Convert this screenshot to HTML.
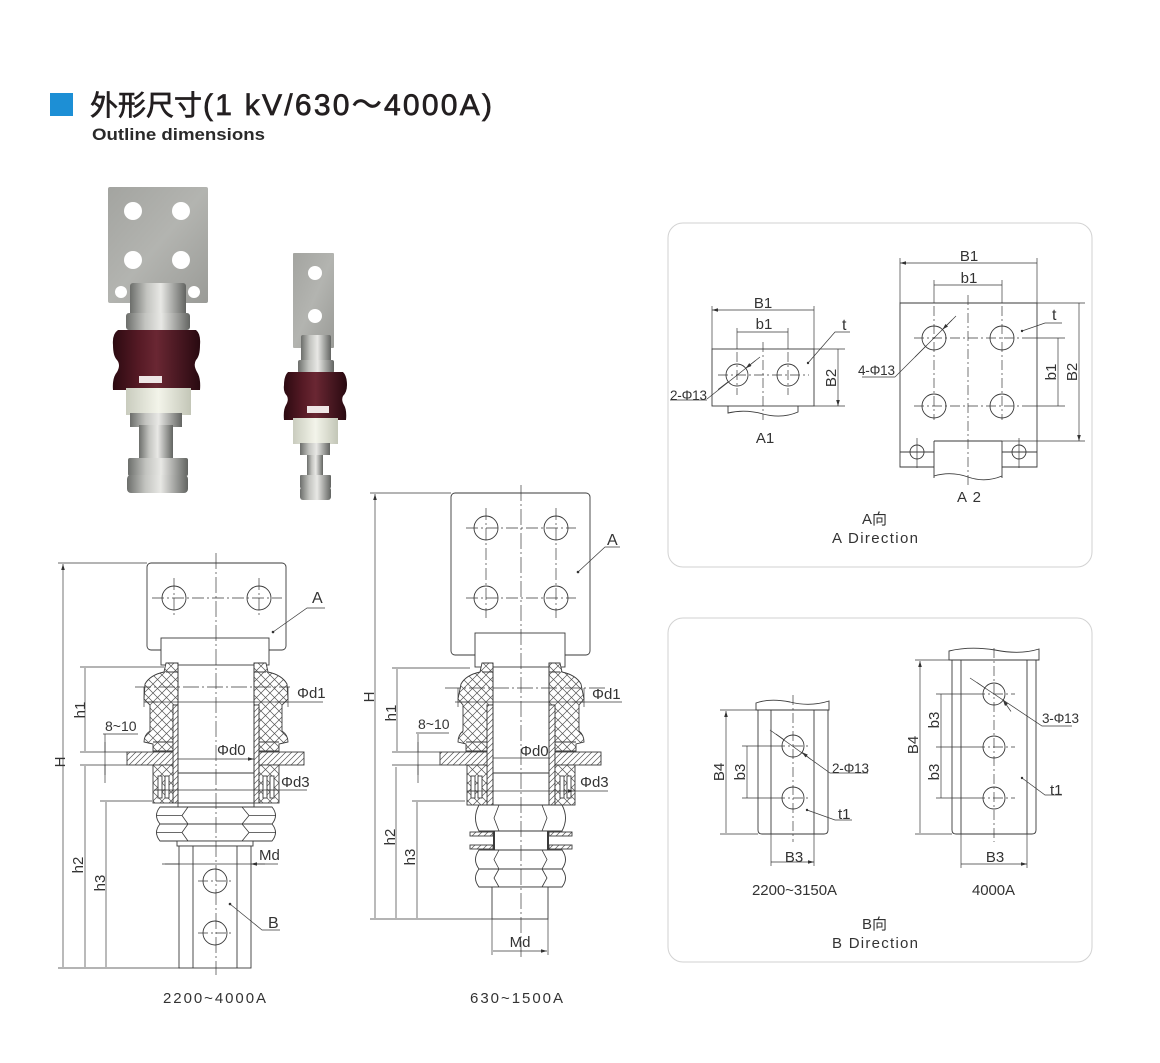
<!DOCTYPE html>
<html><head><meta charset="utf-8">
<style>
html,body{margin:0;padding:0;background:#fff}
svg{display:block}
text{font-family:"Liberation Sans","Noto Sans CJK SC",sans-serif}
</style></head><body>
<svg width="1160" height="1063" viewBox="0 0 1160 1063" xmlns="http://www.w3.org/2000/svg">
<defs>
 <marker id="ar" viewBox="0 0 10 6" refX="10" refY="3" markerWidth="8" markerHeight="3.6" orient="auto-start-reverse" markerUnits="userSpaceOnUse"><path d="M0,0L10,3L0,6z" fill="#333"/></marker>
 <pattern id="xh" patternUnits="userSpaceOnUse" width="9" height="9"><rect width="9" height="9" fill="#fff"/><path d="M0,0L9,9M9,0L0,9" stroke="#555" stroke-width="0.7"/></pattern>
 <pattern id="sh" patternUnits="userSpaceOnUse" width="6" height="6"><rect width="6" height="6" fill="#fff"/><path d="M-1,7L7,-1M-1,1L1,-1M5,7L7,5" stroke="#555" stroke-width="0.7"/></pattern>
 <linearGradient id="metal" x1="0" x2="1" y1="0" y2="0"><stop offset="0" stop-color="#6c6e6b"/><stop offset="0.3" stop-color="#c3c4c0"/><stop offset="0.55" stop-color="#e8e8e5"/><stop offset="1" stop-color="#626461"/></linearGradient>
 <linearGradient id="plateG" x1="0" x2="1" y1="0" y2="1"><stop offset="0" stop-color="#a3a4a0"/><stop offset="0.5" stop-color="#b3b4b0"/><stop offset="1" stop-color="#9a9b97"/></linearGradient>
 <linearGradient id="maroon" x1="0" x2="1" y1="0" y2="0"><stop offset="0" stop-color="#2c0a11"/><stop offset="0.3" stop-color="#561a25"/><stop offset="0.5" stop-color="#6a2733"/><stop offset="1" stop-color="#280910"/></linearGradient>
 <linearGradient id="whiteG" x1="0" x2="1" y1="0" y2="0"><stop offset="0" stop-color="#c9ccbe"/><stop offset="0.5" stop-color="#f3f4ea"/><stop offset="1" stop-color="#c3c6b7"/></linearGradient>
</defs>

<!-- Header -->
<rect x="50" y="93" width="23" height="23" fill="#1d8fd5"/>
<text x="90" y="115" font-size="28" fill="#231f20" stroke="#231f20" stroke-width="0.7">外形尺寸</text>
<text x="203" y="115" font-size="30" fill="#231f20" stroke="#231f20" stroke-width="0.7" textLength="289" lengthAdjust="spacing">(1 kV/630～4000A)</text>
<text x="92" y="140" font-size="17" font-weight="bold" fill="#2a2a2a" textLength="173" lengthAdjust="spacingAndGlyphs">Outline dimensions</text>

<!-- Photos -->
<g>
 <rect x="108" y="187" width="100" height="116" rx="2" fill="url(#plateG)"/>
 <circle cx="133" cy="211" r="9" fill="#fff"/><circle cx="181" cy="211" r="9" fill="#fff"/>
 <circle cx="133" cy="260" r="9" fill="#fff"/><circle cx="181" cy="260" r="9" fill="#fff"/>
 <circle cx="121" cy="292" r="6" fill="#fff"/><circle cx="194" cy="292" r="6" fill="#fff"/>
 <rect x="130" y="283" width="56" height="35" rx="3" fill="url(#metal)"/>
 <rect x="126" y="313" width="64" height="17" rx="3" fill="url(#metal)"/>
 <path d="M118,330H196Q201,334 200,345Q200,356 196,360Q193,365 197,372Q201,378 200,390H113Q112,378 117,372Q121,365 117,360Q113,356 113,345Q112,334 118,330Z" fill="url(#maroon)"/>
 <rect x="139" y="376" width="23" height="7" fill="#efe6e6"/>
 <rect x="126" y="388" width="65" height="27" fill="url(#whiteG)"/>
 <rect x="130" y="413" width="52" height="14" fill="url(#metal)"/>
 <rect x="139" y="425" width="34" height="35" fill="url(#metal)"/>
 <rect x="128" y="458" width="60" height="18" rx="2" fill="url(#metal)"/>
 <rect x="127" y="475" width="61" height="18" rx="4" fill="url(#metal)"/>

 <rect x="293" y="253" width="41" height="95" rx="1" fill="url(#plateG)"/>
 <circle cx="315" cy="273" r="7" fill="#fff"/><circle cx="315" cy="316" r="7" fill="#fff"/>
 <rect x="301" y="335" width="30" height="30" rx="2" fill="url(#metal)"/>
 <rect x="298" y="360" width="36" height="13" rx="2" fill="url(#metal)"/>
 <path d="M288,372H343Q347,376 347,385Q347,392 343,396Q341,400 344,405Q347,410 346,420H284Q283,410 286,405Q289,400 287,396Q283,392 284,385Q284,376 288,372Z" fill="url(#maroon)"/>
 <rect x="307" y="406" width="22" height="7" fill="#efe6e6"/>
 <rect x="293" y="418" width="45" height="26" fill="url(#whiteG)"/>
 <rect x="300" y="443" width="30" height="12" fill="url(#metal)"/>
 <rect x="307" y="455" width="16" height="22" fill="url(#metal)"/>
 <rect x="300" y="475" width="31" height="13" rx="1" fill="url(#metal)"/>
 <rect x="300" y="487" width="31" height="13" rx="3" fill="url(#metal)"/>
</g>

<!-- LEFT DRAWING 2200~4000A -->
<g fill="none" stroke="#3a3a3a" stroke-width="0.9">
 <rect x="147" y="563" width="139" height="87" rx="4" fill="#fff"/>
 <circle cx="174" cy="598" r="12"/><circle cx="259" cy="598" r="12"/>
 <path d="M152,598H282M174,578V618M259,578V618" stroke-dasharray="12,3,2,3" stroke-width="0.7"/>
 <rect x="161" y="638" width="108" height="27" fill="#fff"/>
 <path d="M178,663L166,663L164,672Q150,675 145,684L144,699L150,705L150,731Q144,735 144,742L153,744L153,751L173,751L173,705L178,705Z" fill="url(#xh)"/>
 <path d="M254,663L266,663L268,672Q282,675 287,684L288,699L282,705L282,731Q288,735 288,742L279,744L279,751L259,751L259,705L254,705Z" fill="url(#xh)"/>
 <path d="M153,742H173M279,742H259M166,672H178M266,672H254"/>
 <rect x="173" y="705" width="5" height="98" fill="url(#sh)"/>
 <rect x="254" y="705" width="5" height="98" fill="url(#sh)"/>
 <rect x="127" y="752" width="46" height="13" fill="url(#sh)"/>
 <rect x="259" y="752" width="45" height="13" fill="url(#sh)"/>
 <rect x="153" y="765" width="20" height="38" fill="url(#xh)"/>
 <rect x="259" y="765" width="20" height="38" fill="url(#xh)"/>
 <rect x="158" y="776" width="4" height="22" fill="#fff"/><rect x="165" y="776" width="4" height="22" fill="#fff"/>
 <rect x="263" y="776" width="4" height="22" fill="#fff"/><rect x="270" y="776" width="4" height="22" fill="#fff"/>
 <path d="M178,663V807M254,663V807M178,773H254M178,803H254"/>
 <path d="M160,807H272Q279,815.5 272,824H160Q153,815.5 160,807Z" fill="#fff"/>
 <path d="M160,824H272Q279,832.5 272,841H160Q153,832.5 160,824Z" fill="#fff"/>
 <path d="M188,807L182,815.5L188,824M242,807L249,815.5L242,824M188,824L182,832.5L188,841M242,824L249,832.5L242,841M182,815.5H157M249,815.5H276M182,832.5H157M249,832.5H276" stroke-width="0.8"/>
 <rect x="177" y="841" width="76" height="5" fill="#fff"/>
 <rect x="179" y="846" width="72" height="122" fill="#fff"/>
 <path d="M193,846V968M237,846V968"/>
 <circle cx="215" cy="881" r="12"/><circle cx="215" cy="933" r="12"/>
 <path d="M198,881H232M198,933H232" stroke-dasharray="10,3,2,3" stroke-width="0.7"/>
 <path d="M216,553V975M135,687H290" stroke-dasharray="16,3,2,3" stroke-width="0.7"/>
 <!-- dims -->
 <path d="M58,563H147M58,968H180M80,667H164M80,752H127M80,765H127M100,801H152" stroke-width="0.7"/>
 <path d="M63,564V967M85,668V751M85,766V967M106,802V967M178,759H254" marker-start="url(#ar)" marker-end="url(#ar)" stroke-width="0.7"/>
 <path d="M105,734V783M103,734H138M144,702H323M144,687V707M288,687V707M154,790H307M162,864H278" stroke-width="0.7"/>
 <path d="M105,742V752M105,775V765M158,702H145M275,702H288M166,790H155M266,790H277M165,864H179M265,864H251" marker-end="url(#ar)" stroke-width="0.7"/>
 <path d="M273,632L307,608H325M230,904L262,930H280" stroke-width="0.7"/>
</g>
<circle cx="273" cy="632" r="1.3" fill="#333"/><circle cx="230" cy="904" r="1.3" fill="#333"/>
<g fill="#333" font-size="15">
 <text x="312" y="603" font-size="16">A</text>
 <text x="268" y="928" font-size="16">B</text>
 <text x="297" y="698">Φd1</text>
 <text x="217" y="755">Φd0</text>
 <text x="281" y="787">Φd3</text>
 <text x="259" y="860">Md</text>
 <text x="105" y="731" font-size="14">8~10</text>
 <text transform="translate(65,762) rotate(-90)" text-anchor="middle">H</text>
 <text transform="translate(85,710) rotate(-90)" text-anchor="middle">h1</text>
 <text transform="translate(83,865) rotate(-90)" text-anchor="middle">h2</text>
 <text transform="translate(105,883) rotate(-90)" text-anchor="middle">h3</text>
 <text x="163" y="1003" textLength="103" lengthAdjust="spacing">2200~4000A</text>
</g>

<!-- MIDDLE DRAWING 630~1500A -->
<g fill="none" stroke="#3a3a3a" stroke-width="0.9">
 <rect x="451" y="493" width="139" height="162" rx="4" fill="#fff"/>
 <circle cx="486" cy="528" r="12"/><circle cx="556" cy="528" r="12"/>
 <circle cx="486" cy="598" r="12"/><circle cx="556" cy="598" r="12"/>
 <path d="M466,528H576M466,598H576M486,508V618M556,508V618" stroke-dasharray="12,3,2,3" stroke-width="0.7"/>
 <rect x="475" y="633" width="90" height="34" fill="#fff"/>
 <path d="M493,663L482,663L480,672Q466,675 461,684L458,699L463,705L463,731Q458,735 458,742L466,744L466,751L487,751L487,705L493,705Z" fill="url(#xh)"/>
 <path d="M549,663L560,663L562,672Q576,675 581,684L584,699L579,705L579,731Q584,735 584,742L576,744L576,751L555,751L555,705L549,705Z" fill="url(#xh)"/>
 <path d="M466,742H487M576,742H555M482,672H493M560,672H549"/>
 <rect x="487" y="705" width="6" height="100" fill="url(#sh)"/>
 <rect x="549" y="705" width="6" height="100" fill="url(#sh)"/>
 <rect x="440" y="752" width="47" height="13" fill="url(#sh)"/>
 <rect x="555" y="752" width="46" height="13" fill="url(#sh)"/>
 <rect x="467" y="765" width="20" height="40" fill="url(#xh)"/>
 <rect x="555" y="765" width="20" height="40" fill="url(#xh)"/>
 <rect x="471" y="776" width="4" height="22" fill="#fff"/><rect x="478" y="776" width="4" height="22" fill="#fff"/>
 <rect x="560" y="776" width="4" height="22" fill="#fff"/><rect x="567" y="776" width="4" height="22" fill="#fff"/>
 <path d="M493,663V805M549,663V805M493,773H549"/>
 <path d="M479,805H562Q569,818 562,831H479Q472,818 479,805Z" fill="#fff"/>
 <path d="M499,805L494,818L499,831M542,805L547,818L542,831" stroke-width="0.8"/>
 <rect x="470" y="832" width="23" height="4" fill="url(#sh)"/><rect x="549" y="832" width="23" height="4" fill="url(#sh)"/>
 <rect x="470" y="845" width="23" height="4" fill="url(#sh)"/><rect x="549" y="845" width="23" height="4" fill="url(#sh)"/>
 <path d="M494,831V850M548,831V850" stroke-width="2"/>
 <path d="M479,850H562Q569,859.5 562,869H479Q472,859.5 479,850Z" fill="#fff"/>
 <path d="M479,869H562Q569,878 562,887H479Q472,878 479,869Z" fill="#fff"/>
 <path d="M499,850L494,859.5L499,869M542,850L547,859.5L542,869M499,869L494,878L499,887M542,869L547,878L542,887" stroke-width="0.8"/>
 <rect x="492" y="887" width="56" height="32" fill="#fff"/>
 <path d="M521,485V960M445,688H605" stroke-dasharray="16,3,2,3" stroke-width="0.7"/>
 <path d="M370,493H451M370,919H492M392,668H470M392,752H440M392,765H440M412,801H465M492,919V955M548,919V955" stroke-width="0.7"/>
 <path d="M375,494V918M397,669V751M396,767V918M417,802V918M493,758H549M493,951H547" marker-start="url(#ar)" marker-end="url(#ar)" stroke-width="0.7"/>
 <path d="M418,734V783M416,733H449M455,702H622M458,688V707M584,688V707M467,791H608" stroke-width="0.7"/>
 <path d="M418,742V752M418,775V765M470,702H458M572,702H584M479,791H468M563,791H574" marker-end="url(#ar)" stroke-width="0.7"/>
 <path d="M578,572L605,547H620" stroke-width="0.7"/>
</g>
<circle cx="578" cy="572" r="1.3" fill="#333"/>
<g fill="#333" font-size="15">
 <text x="607" y="545" font-size="16">A</text>
 <text x="592" y="699">Φd1</text>
 <text x="520" y="756">Φd0</text>
 <text x="580" y="787">Φd3</text>
 <text x="520" y="947" text-anchor="middle">Md</text>
 <text x="418" y="729" font-size="14">8~10</text>
 <text transform="translate(374,697) rotate(-90)" text-anchor="middle">H</text>
 <text transform="translate(396,713) rotate(-90)" text-anchor="middle">h1</text>
 <text transform="translate(395,837) rotate(-90)" text-anchor="middle">h2</text>
 <text transform="translate(415,857) rotate(-90)" text-anchor="middle">h3</text>
 <text x="470" y="1003" textLength="93" lengthAdjust="spacing">630~1500A</text>
</g>

<!-- RIGHT PANEL 1 : A direction -->
<rect x="668" y="223" width="424" height="344" rx="15" fill="#fff" stroke="#d2d2d2" stroke-width="1"/>
<g fill="none" stroke="#3a3a3a" stroke-width="0.9">
 <rect x="712" y="349" width="102" height="57" fill="#fff"/>
 <path d="M728,406V413Q745,409 763,414Q782,419 798,412V406"/>
 <circle cx="737" cy="375" r="11"/><circle cx="788" cy="375" r="11"/>
 <path d="M718,375H809M737,352V395M788,352V395M763,342V420" stroke-dasharray="10,3,2,3" stroke-width="0.7"/>
 <path d="M712,306V349M814,306V349M737,328V349M788,328V349M814,349H845M814,406H845" stroke-width="0.7"/>
 <path d="M712,310H814M737,332H788M838,349V406" marker-start="url(#ar)" marker-end="url(#ar)" stroke-width="0.7"/>
 <path d="M707,399L760,357M808,363L835,332H850M670,400H707" stroke-width="0.7"/>
 <path d="M718,389.5L728.3,381.7M755.5,360.5L745.7,368.3" marker-end="url(#ar)" stroke-width="0.7"/>
 <path d="M934,467H900V303H1037V467H1002" fill="#fff"/>
 <path d="M934,441H1002M934,441V478M1002,441V478M900,452H934M1002,452H1037"/>
 <path d="M934,476Q951,471 968,477Q985,483 1002,476"/>
 <circle cx="917" cy="452" r="7"/><circle cx="1019" cy="452" r="7"/>
 <path d="M917,438V468M1019,438V468" stroke-width="0.7"/>
 <circle cx="934" cy="338" r="12"/><circle cx="1002" cy="338" r="12"/>
 <circle cx="934" cy="406" r="12"/><circle cx="1002" cy="406" r="12"/>
 <path d="M914,338H1030M914,406H1030M934,306V420M1002,306V420M968,295V487" stroke-dasharray="10,3,2,3" stroke-width="0.7"/>
 <path d="M900,258V303M1037,258V303M934,280V303M1002,280V303M1030,338H1065M1030,406H1065M1037,303H1085M1002,441H1085" stroke-width="0.7"/>
 <path d="M900,263H1037M934,285H1002M1058,338V406M1079,303V441" marker-start="url(#ar)" marker-end="url(#ar)" stroke-width="0.7"/>
 <path d="M895,377L956,316M862,377H895M1022,331L1045,323H1062" stroke-width="0.7"/>
 <path d="M915,357L925.5,346.5M952,320L942.5,329.5" marker-end="url(#ar)" stroke-width="0.7"/>
</g>
<circle cx="808" cy="363" r="1.2" fill="#333"/><circle cx="1022" cy="331" r="1.2" fill="#333"/>
<g fill="#333" font-size="15">
 <text x="763" y="308" text-anchor="middle">B1</text>
 <text x="764" y="329" text-anchor="middle">b1</text>
 <text x="842" y="330" font-size="16">t</text>
 <text x="670" y="400" font-size="13.5" textLength="37" lengthAdjust="spacing">2-Φ13</text>
 <text transform="translate(836,378) rotate(-90)" text-anchor="middle">B2</text>
 <text x="765" y="443" text-anchor="middle">A1</text>
 <text x="969" y="261" text-anchor="middle">B1</text>
 <text x="969" y="283" text-anchor="middle">b1</text>
 <text x="1052" y="320" font-size="16">t</text>
 <text x="858" y="375" font-size="13.5" textLength="37" lengthAdjust="spacing">4-Φ13</text>
 <text transform="translate(1056,372) rotate(-90)" text-anchor="middle">b1</text>
 <text transform="translate(1077,372) rotate(-90)" text-anchor="middle">B2</text>
 <text x="957" y="502" textLength="24" lengthAdjust="spacing">A2</text>
 <text x="862" y="524">A向</text>
 <text x="832" y="543" textLength="86" lengthAdjust="spacing">A  Direction</text>
</g>

<!-- RIGHT PANEL 2 : B direction -->
<rect x="668" y="618" width="424" height="344" rx="15" fill="#fff" stroke="#d2d2d2" stroke-width="1"/>
<g fill="none" stroke="#3a3a3a" stroke-width="0.9">
 <path d="M758,710V830Q758,834 762,834H824Q828,834 828,830V710" fill="#fff"/>
 <path d="M756,710V703Q770,698 790,702Q810,707 829,701V710Z" fill="#fff"/>
 <path d="M771,710V834M814,710V834"/>
 <circle cx="793" cy="746" r="11"/><circle cx="793" cy="798" r="11"/>
 <path d="M793,695V842M775,746H808M775,798H808" stroke-dasharray="10,3,2,3" stroke-width="0.7"/>
 <path d="M720,710H758M720,834H758M742,746H775M742,798H775M771,834V866M814,834V866" stroke-width="0.7"/>
 <path d="M726,711V833M747,746V798M771,862H814" marker-start="url(#ar)" marker-end="url(#ar)" stroke-width="0.7"/>
 <path d="M770,730L830,773H868M807,810L835,820H852" stroke-width="0.7"/>
 <path d="M776,734L784,739.7M811,759.5L802,752.3" marker-end="url(#ar)" stroke-width="0.7"/>
 <path d="M952,660V830Q952,834 956,834H1032Q1036,834 1036,830V660" fill="#fff"/>
 <path d="M949,660V651Q970,646 995,650Q1020,655 1039,649V660Z" fill="#fff"/>
 <path d="M961,660V834M1027,660V834"/>
 <circle cx="994" cy="694" r="11"/><circle cx="994" cy="747" r="11"/><circle cx="994" cy="798" r="11"/>
 <path d="M994,648V842M975,694H1015M975,747H1015M975,798H1015" stroke-dasharray="10,3,2,3" stroke-width="0.7"/>
 <path d="M915,660H952M915,834H952M936,694H975M936,747H975M936,798H975M961,834V868M1027,834V868" stroke-width="0.7"/>
 <path d="M920,661V833M941,694V747M941,747V798M961,864H1027" marker-start="url(#ar)" marker-end="url(#ar)" stroke-width="0.7"/>
 <path d="M970,678L1042,726H1072M1022,778L1045,795H1062" stroke-width="0.7"/>
 <path d="M977,682.5L985,688M1011,711.5L1003,700" marker-end="url(#ar)" stroke-width="0.7"/>
</g>
<circle cx="807" cy="810" r="1.2" fill="#333"/><circle cx="1022" cy="778" r="1.2" fill="#333"/>
<g fill="#333" font-size="15">
 <text transform="translate(724,772) rotate(-90)" text-anchor="middle">B4</text>
 <text transform="translate(745,772) rotate(-90)" text-anchor="middle">b3</text>
 <text x="832" y="773" font-size="13.5" textLength="37" lengthAdjust="spacing">2-Φ13</text>
 <text x="838" y="819">t1</text>
 <text x="794" y="862" text-anchor="middle">B3</text>
 <text x="752" y="895" textLength="85" lengthAdjust="spacing">2200~3150A</text>
 <text transform="translate(918,745) rotate(-90)" text-anchor="middle">B4</text>
 <text transform="translate(939,720) rotate(-90)" text-anchor="middle">b3</text>
 <text transform="translate(939,772) rotate(-90)" text-anchor="middle">b3</text>
 <text x="1042" y="723" font-size="13.5" textLength="37" lengthAdjust="spacing">3-Φ13</text>
 <text x="1050" y="795">t1</text>
 <text x="995" y="862" text-anchor="middle">B3</text>
 <text x="972" y="895" textLength="43" lengthAdjust="spacing">4000A</text>
 <text x="862" y="929">B向</text>
 <text x="832" y="948" textLength="86" lengthAdjust="spacing">B  Direction</text>
</g>
</svg>
</body></html>
